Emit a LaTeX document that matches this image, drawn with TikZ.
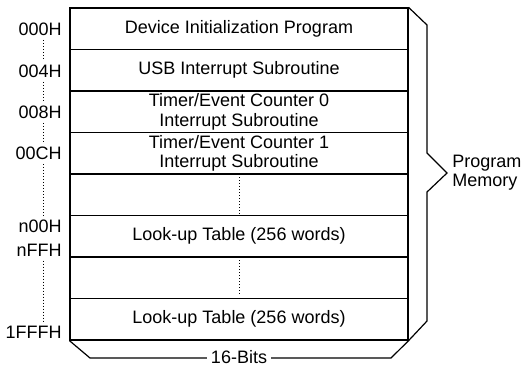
\documentclass[tikz,border=0pt]{standalone}
\usepackage{fontspec}
\setmainfont{Liberation Sans}
\tikzset{
  memrow/.style={draw,line width=0.6pt,minimum width=169pt,minimum height=20.75pt,
    align=center,font=\fontsize{9}{9.6}\selectfont,inner sep=0pt},
  addr/.style={anchor=east,font=\fontsize{9}{10}\selectfont,inner sep=2pt},
  addrdots/.style={densely dotted,line width=0.5pt},
  brace/.style={line width=0.6pt,line join=miter},
}
\begin{document}
\begin{tikzpicture}[x=0.5pt,y=-0.5pt]
      \useasboundingbox (0,0) rectangle (522,365);
      %memory rows
      \node[memrow] (r1) at (239,28.75) {Device Initialization Program};
      \node[memrow] (r2) at (239,70.25) {USB Interrupt Subroutine};
      \node[memrow] (r3) at (239,111.75) {Timer/Event Counter 0\\Interrupt Subroutine};
      \node[memrow] (r4) at (239,153.25) {Timer/Event Counter 1\\Interrupt Subroutine};
      \node[memrow] (r5) at (239,194.75) {};
      \node[memrow] (r6) at (239,236.25) {Look-up Table (256 words)};
      \node[memrow] (r7) at (239,277.75) {};
      \node[memrow] (r8) at (239,319.25) {Look-up Table (256 words)};
      \draw[addrdots] ([yshift=-2pt]r5.north) -- (r5.south);
      \draw[addrdots] ([yshift=-2pt]r7.north) -- ([yshift=1.5pt]r7.south);
      %addresses
      \coordinate (dotx) at (43,0);
      \node[addr] (a000) at (66,29) {000H};
      \node[addr] (a004) at (66,71) {004H};
      \node[addr] (a008) at (66,112) {008H};
      \node[addr] (a00C) at (66,153) {00CH};
      \node[addr] (an00) at (66,226) {n00H};
      \node[addr] (anFF) at (66,250) {nFFH};
      \node[addr] (a1FFF) at (66,332) {1FFFH};
      \draw[addrdots] (a000.south -| dotx) -- (a004.north -| dotx);
      \draw[addrdots] (a004.south -| dotx) -- (a008.north -| dotx);
      \draw[addrdots] (a008.south -| dotx) -- (a00C.north -| dotx);
      \draw[addrdots] (a00C.south -| dotx) -- (an00.north -| dotx);
      \draw[addrdots] (anFF.south -| dotx) -- (a1FFF.north -| dotx);
      %program memory brace
      \draw[brace] (r1.north east) -- (427,25) -- (427,153) -- (447,173)
        -- (427,192) -- (427,321) -- (r8.south east);
      \node[anchor=west,align=left,inner sep=0pt,font=\fontsize{9}{9.6}\selectfont]
        (pm) at (452,173) {Program\\Memory};
      %16-bits brace
      \draw[brace] (r8.south west) -- (90,358) -- (391,358) -- (r8.south east);
      \node[fill=white,inner sep=2pt,font=\fontsize{9}{10}\selectfont] (bits) at (239,357) {16-Bits};
    \end{tikzpicture}
\end{document}
